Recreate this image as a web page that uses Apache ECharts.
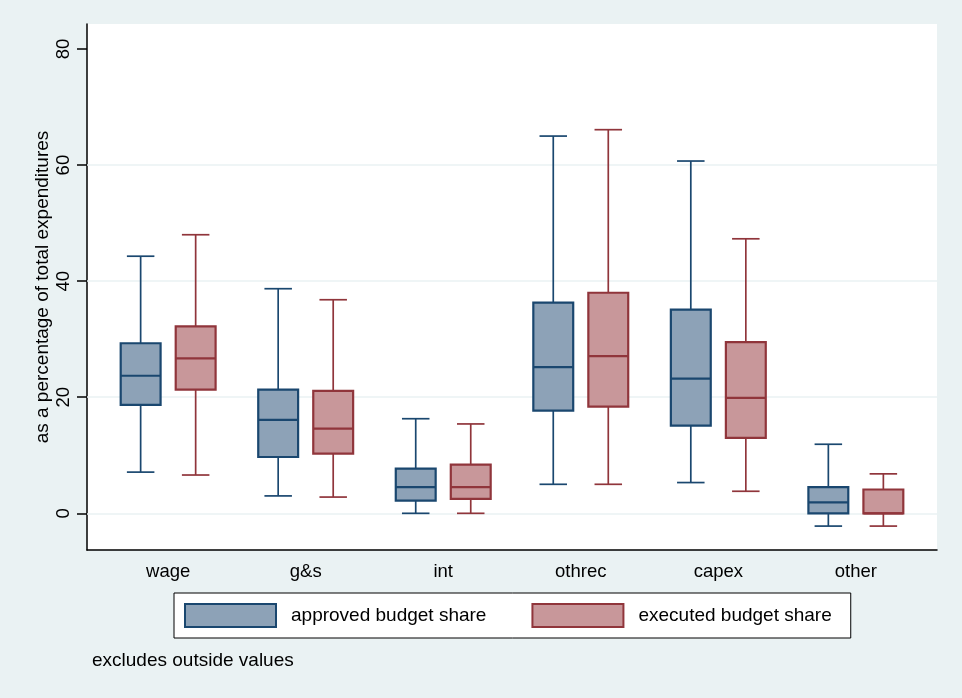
<!DOCTYPE html>
<html>
<head>
<meta charset="utf-8">
<script src="https://cdn.jsdelivr.net/npm/echarts@6/dist/echarts.min.js"></script>
<style>
  html, body { margin: 0; padding: 0; background: #EAF2F3; }
  #chart { width: 962px; height: 698px; }
</style>
</head>
<body>
<div id="chart"></div>
<script>
// Expenditure categories along the x axis
const categories = ['wage', 'g&s', 'int', 'othrec', 'capex', 'other'];

// Box summaries per category: [lower whisker, Q1, median, Q3, upper whisker]
const approvedShare = [
  [7.1, 18.7, 23.7, 29.3, 44.3],
  [3.0, 9.7, 16.1, 21.3, 38.7],
  [0.0, 2.2, 4.5, 7.7, 16.3],
  [5.0, 17.7, 25.2, 36.3, 65.0],
  [5.3, 15.1, 23.2, 35.1, 60.7],
  [-2.2, 0.0, 1.9, 4.5, 11.9]
];
const executedShare = [
  [6.6, 21.3, 26.7, 32.2, 48.0],
  [2.8, 10.3, 14.6, 21.1, 36.8],
  [0.0, 2.5, 4.5, 8.4, 15.4],
  [5.0, 18.4, 27.1, 38.0, 66.1],
  [3.8, 13.0, 19.9, 29.5, 47.3],
  [-2.2, 0.0, 0.0, 4.1, 6.8]
];

// Axis ticks and grid lines
const yTicks = [0, 20, 40, 60, 80];
const yGridLines = [0, 20, 40, 60];

const seriesNames = ['approved budget share', 'executed budget share'];

const NAVY = '#1A476F', NAVY_FILL = '#8DA2B7';
const MAROON = '#90353B', MAROON_FILL = '#C8979A';
const FONT = 'Liberation Sans, Arial, sans-serif';

const chart = echarts.init(document.getElementById('chart'), null, { renderer: 'canvas' });

// Each row becomes [categoryPosition, low, q1, median, q3, high]
function toRows(summary) {
  return summary.map((s, i) => [i + 1].concat(s));
}

function boxRenderer(offset, stroke, fill) {
  const halfBox = 0.145;
  const halfCap = 0.1;
  return function (params, api) {
    const x = api.value(0) + offset;
    const low = api.value(1), q1 = api.value(2), med = api.value(3), q3 = api.value(4), high = api.value(5);
    const pLow = api.coord([x, low]);
    const pQ1 = api.coord([x, q1]);
    const pMed = api.coord([x, med]);
    const pQ3 = api.coord([x, q3]);
    const pHigh = api.coord([x, high]);
    const left = api.coord([x - halfBox, q1])[0];
    const right = api.coord([x + halfBox, q1])[0];
    const capL = api.coord([x - halfCap, q1])[0];
    const capR = api.coord([x + halfCap, q1])[0];
    const whisker = { stroke: stroke, lineWidth: 1.7 };
    return {
      type: 'group',
      children: [
        { type: 'line', shape: { x1: pQ3[0], y1: pQ3[1], x2: pHigh[0], y2: pHigh[1] }, style: whisker },
        { type: 'line', shape: { x1: pQ1[0], y1: pQ1[1], x2: pLow[0], y2: pLow[1] }, style: whisker },
        { type: 'line', shape: { x1: capL, y1: pHigh[1], x2: capR, y2: pHigh[1] }, style: whisker },
        { type: 'line', shape: { x1: capL, y1: pLow[1], x2: capR, y2: pLow[1] }, style: whisker },
        {
          type: 'rect',
          shape: { x: left, y: pQ3[1], width: right - left, height: pQ1[1] - pQ3[1] },
          style: { fill: fill, stroke: stroke, lineWidth: 2.2 }
        },
        { type: 'line', shape: { x1: left, y1: pMed[1], x2: right, y2: pMed[1] }, style: { stroke: stroke, lineWidth: 2.2 } }
      ]
    };
  };
}

const option = {
  backgroundColor: '#EAF2F3',
  animation: false,
  textStyle: { fontFamily: FONT },
  grid: {
    left: 87, top: 24, width: 850, height: 526,
    show: true, backgroundColor: '#FFFFFF', borderWidth: 0
  },
  xAxis: {
    type: 'value',
    min: 0.41, max: 6.59,
    splitLine: { show: false },
    axisTick: { show: false },
    axisLine: { show: true, onZero: false, lineStyle: { color: '#000000', width: 1.5 } },
    axisLabel: {
      customValues: [1, 2, 3, 4, 5, 6],
      formatter: v => categories[Math.round(v) - 1],
      color: '#000000', fontSize: 18.5, fontFamily: FONT, margin: 12
    }
  },
  yAxis: {
    type: 'value',
    min: -6.32, max: 84.31,
    name: 'as a percentage of total expenditures',
    nameLocation: 'middle',
    nameRotate: 90,
    nameGap: 35,
    nameMoveOverlap: false,
    nameTextStyle: { color: '#000000', fontSize: 19, fontFamily: FONT },
    splitLine: { show: false },
    axisLine: { show: true, onZero: false, lineStyle: { color: '#000000', width: 1.5 } },
    axisTick: { show: true, customValues: yTicks, length: 10, lineStyle: { color: '#000000', width: 1.5 } },
    axisLabel: {
      customValues: yTicks,
      rotate: 90,
      color: '#000000', fontSize: 18.5, fontFamily: FONT, margin: 14
    }
  },
  legend: {
    left: 174, top: 593,
    padding: [10, 19, 10, 10],
    itemGap: 45,
    itemWidth: 91, itemHeight: 23,
    backgroundColor: '#FFFFFF',
    borderColor: '#000000', borderWidth: 1,
    textStyle: { color: '#000000', fontSize: 19, fontFamily: FONT, padding: [0, 0, 0, 10] },
    data: [
      { name: seriesNames[0], icon: 'rect', itemStyle: { color: NAVY_FILL, borderColor: NAVY, borderWidth: 2 } },
      { name: seriesNames[1], icon: 'rect', itemStyle: { color: MAROON_FILL, borderColor: MAROON, borderWidth: 2 } }
    ]
  },
  graphic: [
    {
      type: 'text', left: 92, top: 651,
      style: { text: 'excludes outside values', fill: '#000000', font: '19px ' + FONT }
    }
  ],
  series: [
    {
      type: 'line', name: 'grid', data: [], silent: true, z: 1,
      markLine: {
        silent: true, symbol: 'none', label: { show: false }, z: 1,
        lineStyle: { color: '#EAF2F3', width: 1.5, type: 'solid' },
        data: yGridLines.map(v => ({ yAxis: v }))
      }
    },
    {
      type: 'custom', name: seriesNames[0], z: 10,
      itemStyle: { color: NAVY_FILL, borderColor: NAVY },
      renderItem: boxRenderer(-0.2, NAVY, NAVY_FILL),
      encode: { x: 0, y: [1, 2, 3, 4, 5] },
      data: toRows(approvedShare)
    },
    {
      type: 'custom', name: seriesNames[1], z: 10,
      itemStyle: { color: MAROON_FILL, borderColor: MAROON },
      renderItem: boxRenderer(0.2, MAROON, MAROON_FILL),
      encode: { x: 0, y: [1, 2, 3, 4, 5] },
      data: toRows(executedShare)
    }
  ]
};

chart.setOption(option);
</script>
</body>
</html>
